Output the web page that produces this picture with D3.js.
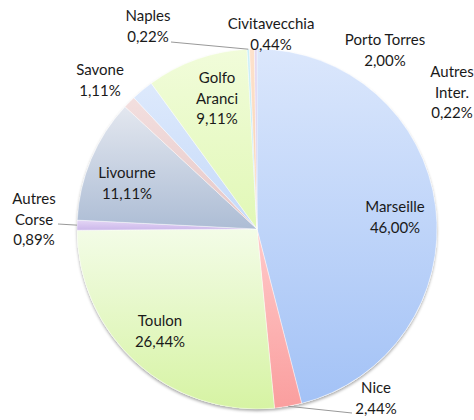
<!DOCTYPE html>
<html>
<head>
<meta charset="utf-8">
<script src="https://cdn.jsdelivr.net/npm/d3@7"></script>
<style>
  body { margin: 0; background: #fff; }
  text { font-family: Lato, "Open Sans", sans-serif; font-size: 15px; fill: #1a1a1a; }
</style>
</head>
<body>
<div id="chart"></div>
<script>
// slice order, clockwise from 12 o'clock
var ports = ['Marseille', 'Nice', 'Toulon', 'Autres Corse', 'Livourne', 'Savone', 'Porto Torres', 'Golfo Aranci', 'Naples', 'Civitavecchia', 'Autres Inter.'];
var shares = [46.00, 2.44, 26.44, 0.89, 11.11, 1.11, 2.00, 9.11, 0.22, 0.44, 0.22];
var shareLabels = ['46,00%', '2,44%', '26,44%', '0,89%', '11,11%', '1,11%', '2,00%', '9,11%', '0,22%', '0,44%', '0,22%'];
var topColors = ['#dbe7fc', '#ffcaca', '#f3fce7', '#e4d6f5', '#e3e7ef', '#f3dfdf', '#dde9fc', '#f1fcda', '#cdf0f8', '#fde2cc', '#e2d8f2'];
var bottomColors = ['#a3c2f6', '#fa9e9e', '#d6f3a3', '#cbb7ea', '#adbdd5', '#e5c6c6', '#c5daf9', '#e1f8b6', '#b6e6f2', '#f9d0b0', '#cfc0ea'];

// label text lines and positions (multi-line labels as in the original)
var labelLines = [['Marseille'], ['Nice'], ['Toulon'], ['Autres', 'Corse'], ['Livourne'], ['Savone'], ['Porto Torres'], ['Golfo', 'Aranci'], ['Naples'], ['Civitavecchia'], ['Autres', 'Inter.']];
var labelPos = [[395, 212], [376, 393], [160, 326], [34, 204], [127, 178], [100, 75], [385, 45], [217, 83], [148, 21], [271, 29], [452, 77]];

var width = 474, height = 420;
var cx = 257, cy = 229, radius = 180;

var svg = d3.select('#chart').append('svg')
  .attr('width', width)
  .attr('height', height);

var defs = svg.append('defs');

var shadow = defs.append('filter')
  .attr('id', 'shadow')
  .attr('x', '-10%').attr('y', '-10%')
  .attr('width', '120%').attr('height', '120%');
shadow.append('feDropShadow')
  .attr('dx', 0).attr('dy', 2)
  .attr('stdDeviation', 1.6)
  .attr('flood-color', '#000')
  .attr('flood-opacity', 0.35);

ports.forEach(function(p, i) {
  var g = defs.append('linearGradient')
    .attr('id', 'grad' + i)
    .attr('x1', 0).attr('y1', 0)
    .attr('x2', 0).attr('y2', 1);
  g.append('stop').attr('offset', '0%').attr('stop-color', topColors[i]);
  g.append('stop').attr('offset', '100%').attr('stop-color', bottomColors[i]);
});

var data = ports.map(function(p, i) {
  return { port: p, value: shares[i], label: shareLabels[i], index: i };
});

var pie = d3.pie()
  .sort(null)
  .value(function(d) { return d.value; });

var arc = d3.arc()
  .innerRadius(0)
  .outerRadius(radius);

var pieG = svg.append('g')
  .attr('transform', 'translate(' + cx + ',' + cy + ')');

pieG.append('circle')
  .attr('r', radius)
  .attr('fill', '#fff')
  .attr('filter', 'url(#shadow)');

pieG.selectAll('.slice')
  .data(pie(data))
  .enter()
  .append('path')
  .attr('class', 'slice')
  .attr('d', arc)
  .attr('fill', function(d) { return 'url(#grad' + d.data.index + ')'; })
  .attr('stroke', '#fff')
  .attr('stroke-width', 0.4);

// leader lines for the small slices
var arcs = pie(data);
function edgePoint(i) {
  var a = (arcs[i].startAngle + arcs[i].endAngle) / 2;
  return [cx + Math.sin(a) * radius, cy - Math.cos(a) * radius];
}
var leaders = [
  { i: 8, from: [171, 42] },
  { i: 3, from: [58, 224] },
  { i: 1, from: [352, 413] }
];
svg.selectAll('.leader')
  .data(leaders)
  .enter()
  .append('polyline')
  .attr('class', 'leader')
  .attr('points', function(d) {
    var e = edgePoint(d.i);
    return d.from.join(',') + ' ' + e.join(',');
  })
  .attr('fill', 'none')
  .attr('stroke', '#999')
  .attr('stroke-width', 1);

// labels
var lineH = 20.5;
var labels = svg.selectAll('.label')
  .data(data)
  .enter()
  .append('text')
  .attr('class', 'label')
  .attr('text-anchor', 'middle')
  .attr('x', function(d) { return labelPos[d.index][0]; })
  .attr('y', function(d) { return labelPos[d.index][1]; });

labels.each(function(d) {
  var t = d3.select(this);
  var lines = labelLines[d.index].concat([d.label]);
  lines.forEach(function(l, k) {
    t.append('tspan')
      .attr('x', labelPos[d.index][0])
      .attr('dy', k === 0 ? 0 : lineH)
      .text(l);
  });
});
</script>
</body>
</html>
